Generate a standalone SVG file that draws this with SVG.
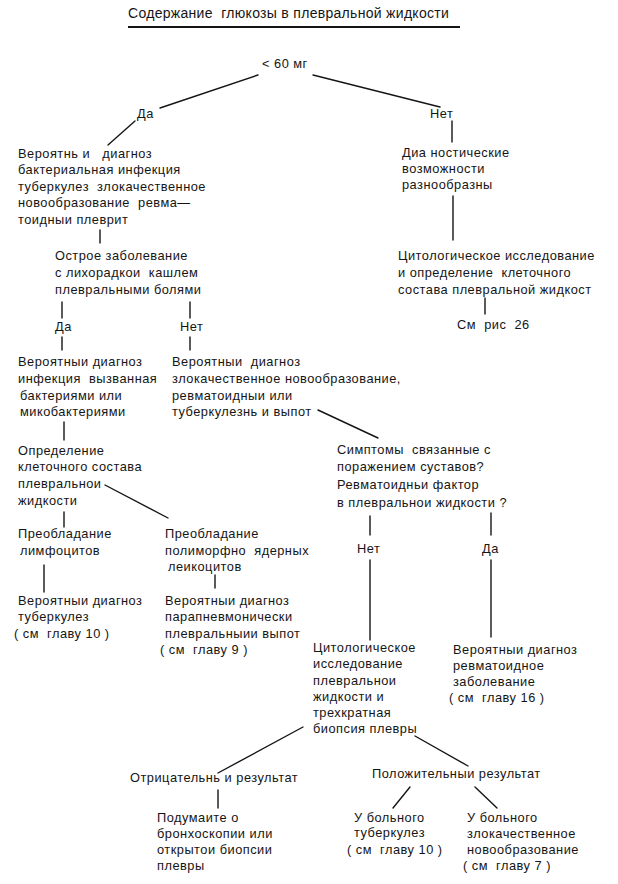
<svg xmlns="http://www.w3.org/2000/svg" width="618" height="884" viewBox="0 0 618 884" xml:space="preserve">
<style>
text{font-family:"Liberation Sans",Arial,sans-serif;font-size:12.8px;fill:#151515;letter-spacing:0.5px;white-space:pre}
.t{font-size:14px;letter-spacing:0.3px}
.c line{stroke:#151515;stroke-width:1.4;stroke-linecap:round}
</style>
<rect width="618" height="884" fill="#fff"/>
<g id="title"><text class="t" x="128" y="18">Содержание  глюкозы в плевральной жидкости</text><line x1="128" y1="27" x2="460" y2="27" stroke="#151515" stroke-width="2.2"/></g>
<g id="n60"><text x="262" y="68">&lt; 60 мг</text></g>
<g id="yes1"><text x="137" y="118">Да</text></g>
<g id="no1"><text x="430" y="118">Нет</text></g>
<g id="probable"><text x="18" y="158">Вероятнь и   диагноз</text><text x="18" y="174">бактериальная инфекция</text><text x="18" y="191">туберкулез  злокачественное</text><text x="18" y="207">новообразование  ревма—</text><text x="18" y="224">тоидныи плеврит</text></g>
<g id="acute"><text x="55" y="260">Острое заболевание</text><text x="55" y="277">с лихорадкои  кашлем</text><text x="55" y="294">плевральными болями</text></g>
<g id="yes2"><text x="55" y="331">Да</text></g>
<g id="no2"><text x="180" y="331">Нет</text></g>
<g id="infection"><text x="18" y="366">Вероятныи диагноз</text><text x="18" y="383">инфекция  вызванная</text><text x="20" y="400">бактериями или</text><text x="20" y="416">микобактериями</text></g>
<g id="malignant"><text x="172" y="366">Вероятныи  диагноз</text><text x="172" y="383">злокачественное новообразование,</text><text x="172" y="400">ревматоидныи или</text><text x="172" y="416">туберкулезнь и выпот</text></g>
<g id="celldef"><text x="18" y="455">Определение</text><text x="18" y="471">клеточного состава</text><text x="18" y="488">плевральнои</text><text x="18" y="505">жидкости</text></g>
<g id="lymph"><text x="18" y="538">Преобладание</text><text x="20" y="555">лимфоцитов</text></g>
<g id="poly"><text x="165" y="538">Преобладание</text><text x="165" y="555">полиморфно  ядерных</text><text x="168" y="571">леикоцитов</text></g>
<g id="tb1"><text x="18" y="605">Вероятныи диагноз</text><text x="18" y="621">туберкулез</text><text x="14" y="638">( см  главу 10 )</text></g>
<g id="parapn"><text x="165" y="605">Вероятныи диагноз</text><text x="165" y="621">парапневмонически</text><text x="165" y="638">плевральныии выпот</text><text x="160" y="654">( см  главу 9 )</text></g>
<g id="symptoms"><text x="337" y="454">Симптомы  связанные с</text><text x="337" y="471">поражением суставов?</text><text x="337" y="489">Ревматоидньи фактор</text><text x="337" y="507">в плевральнои жидкости ?</text></g>
<g id="no3"><text x="357" y="553">Нет</text></g>
<g id="yes3"><text x="482" y="553">Да</text></g>
<g id="cytobiopsy"><text x="313" y="652">Цитологическое</text><text x="313" y="668">исследование</text><text x="313" y="685">плевральнои</text><text x="313" y="701">жидкости и</text><text x="313" y="717">трехкратная</text><text x="313" y="733">биопсия плевры</text></g>
<g id="rheum"><text x="453" y="654">Вероятныи диагноз</text><text x="453" y="670">ревматоидное</text><text x="453" y="686">заболевание</text><text x="449" y="702">( см  главу 16 )</text></g>
<g id="negative"><text x="130" y="782">Отрицательнь и результат</text></g>
<g id="bronch"><text x="157" y="822">Подумаите о</text><text x="157" y="838">бронхоскопии или</text><text x="157" y="854">открытои биопсии</text><text x="157" y="870">плевры</text></g>
<g id="positive"><text x="372" y="778">Положительныи результат</text></g>
<g id="tb2"><text x="354" y="822">У больного</text><text x="354" y="837">туберкулез</text><text x="347" y="854">( см  главу 10 )</text></g>
<g id="malig2"><text x="467" y="822">У больного</text><text x="467" y="838">злокачественное</text><text x="467" y="854">новообразование</text><text x="463" y="870">( см  главу 7 )</text></g>
<g id="diag"><text x="402" y="157">Диа ностические</text><text x="402" y="173">возможности</text><text x="402" y="189">разнообразны</text></g>
<g id="cyto"><text x="398" y="260">Цитологическое исследование</text><text x="398" y="277">и определение  клеточного</text><text x="398" y="294">состава плевральной жидкост</text></g>
<g id="fig26"><text x="457" y="329">См  рис  26</text></g>
<g class="c" id="connectors">
<line x1="258" y1="75" x2="160" y2="108"/>
<line x1="313" y1="75" x2="440" y2="107"/>
<line x1="135" y1="121" x2="108" y2="145"/>
<line x1="452" y1="121" x2="452" y2="142"/>
<line x1="453" y1="196" x2="453" y2="240"/>
<line x1="485" y1="298" x2="485" y2="314"/>
<line x1="100" y1="230" x2="100" y2="243"/>
<line x1="62" y1="302" x2="62" y2="318"/>
<line x1="190" y1="302" x2="190" y2="318"/>
<line x1="62" y1="337" x2="62" y2="350"/>
<line x1="190" y1="337" x2="190" y2="350"/>
<line x1="318" y1="410" x2="378" y2="438"/>
<line x1="64" y1="422" x2="64" y2="440"/>
<line x1="105" y1="485" x2="168" y2="518"/>
<line x1="64" y1="512" x2="64" y2="527"/>
<line x1="44" y1="565" x2="44" y2="592"/>
<line x1="215" y1="575" x2="215" y2="588"/>
<line x1="370" y1="516" x2="370" y2="535"/>
<line x1="491" y1="513" x2="491" y2="535"/>
<line x1="370" y1="560" x2="370" y2="640"/>
<line x1="491" y1="560" x2="491" y2="637"/>
<line x1="303" y1="727" x2="218" y2="773"/>
<line x1="415" y1="736" x2="468" y2="766"/>
<line x1="218" y1="790" x2="218" y2="808"/>
<line x1="410" y1="787" x2="393" y2="808"/>
<line x1="475" y1="787" x2="497" y2="808"/>
</g>
</svg>
